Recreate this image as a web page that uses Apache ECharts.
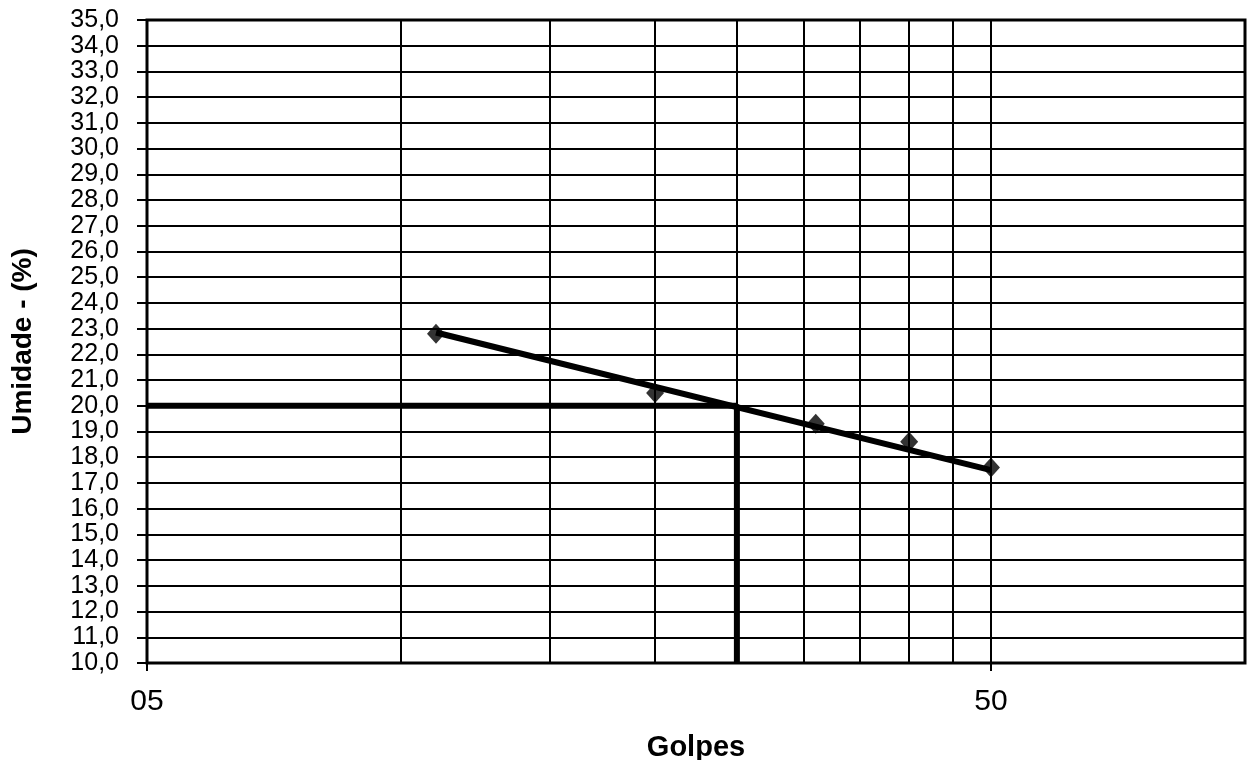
<!DOCTYPE html>
<html>
<head>
<meta charset="utf-8">
<script src="https://cdn.jsdelivr.net/npm/echarts@6/dist/echarts.min.js"></script>
<style>
html,body{margin:0;padding:0;background:#fff;}
#chart{width:1247px;height:760px;}
</style>
</head>
<body>
<div id="chart"></div>
<script>
// ---- data ----
const golpes = [11, 20, 31, 40, 50];
const umidade = [22.8, 20.5, 19.3, 18.6, 17.6];
const trendGolpes = [11, 50];
const trendUmidade = [22.85, 17.5];
const refGolpes = 25;
const refUmidade = 20;
const xMin = 5, xMax = 100;
const xGridValues = [10, 15, 20, 25, 30, 35, 40, 45, 50];
const xLabelValues = [5, 50];
const yMin = 10, yMax = 35, yStep = 1;
const xTitle = 'Golpes';
const yTitle = 'Umidade - (%)';

const font = 'Liberation Sans, Arial, sans-serif';
const chart = echarts.init(document.getElementById('chart'), null, {renderer: 'canvas'});

const pts = golpes.map((g, i) => [g, umidade[i]]);
const trend = trendGolpes.map((g, i) => [g, trendUmidade[i]]);
const refLine = [[xMin, refUmidade], [refGolpes, refUmidade], [refGolpes, yMin]];

chart.setOption({
  animation: false,
  backgroundColor: '#fff',
  grid: {left: 147, right: 2, top: 20, bottom: 97, containLabel: false, outerBoundsMode: 'none',
    show: true, borderColor: '#000', borderWidth: 3, backgroundColor: 'transparent'},
  xAxis: {
    type: 'log', logBase: 10, min: xMin, max: xMax,
    name: xTitle, nameLocation: 'middle', nameGap: 70,
    nameTextStyle: {fontFamily: font, fontSize: 29, fontWeight: 'bold', color: '#000'},
    axisLine: {show: true, onZero: false, lineStyle: {color: '#000', width: 2}},
    axisTick: {show: true, length: 8, lineStyle: {color: '#000', width: 2}, customValues: xLabelValues},
    axisLabel: {show: true, customValues: xLabelValues, margin: 24, fontFamily: font, fontSize: 30, color: '#000',
      formatter: v => String(Math.round(v)).padStart(2, '0')},
    splitLine: {show: false},
    minorTick: {show: false}, minorSplitLine: {show: false}
  },
  yAxis: {
    type: 'value', min: yMin, max: yMax, interval: yStep,
    name: yTitle, nameLocation: 'middle', nameGap: 110, nameRotate: 90,
    nameTextStyle: {fontFamily: font, fontSize: 28, fontWeight: 'bold', color: '#000'},
    axisLine: {show: true, lineStyle: {color: '#000', width: 2}},
    axisTick: {show: true, length: 10, lineStyle: {color: '#000', width: 2}},
    axisLabel: {margin: 28, fontFamily: font, fontSize: 25, lineHeight: 22, color: '#000',
      showMinLabel: true, showMaxLabel: true, hideOverlap: false,
      formatter: v => v.toFixed(1).replace('.', ',')},
    splitLine: {show: true, lineStyle: {color: '#000', width: 2}}
  },
  series: [
    {
      type: 'line', data: [], silent: true,
      markLine: {
        silent: true, symbol: ['none', 'none'], animation: false,
        label: {show: false},
        lineStyle: {color: '#000', width: 2, type: 'solid'},
        data: xGridValues.map(v => ({xAxis: v}))
      }
    },
    {
      type: 'line', data: refLine, showSymbol: false, symbol: 'none', silent: true,
      lineStyle: {color: '#000', width: 6}, z: 4
    },
    {
      type: 'line', data: trend, showSymbol: false, symbol: 'none', silent: true,
      lineStyle: {color: '#000', width: 6}, z: 5
    },
    {
      type: 'scatter', data: pts, symbol: 'diamond', symbolSize: [18, 20], silent: true,
      itemStyle: {color: '#000'}, z: 6
    }
  ]
});
</script>
</body>
</html>
